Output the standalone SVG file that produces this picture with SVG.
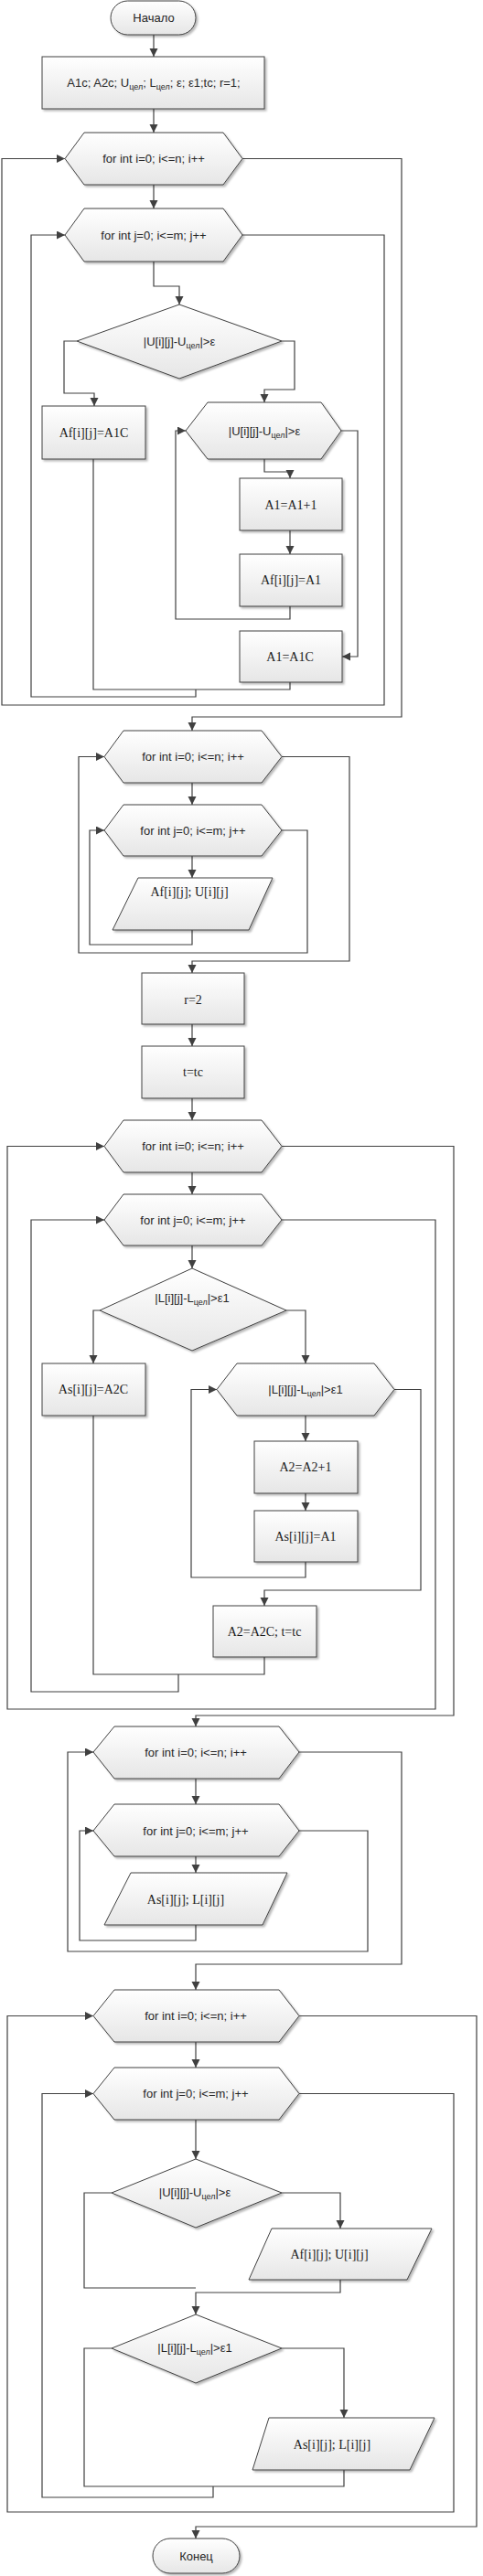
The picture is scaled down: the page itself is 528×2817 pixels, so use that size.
<svg xmlns="http://www.w3.org/2000/svg" width="528" height="2817" viewBox="0 0 528 2817">
<defs>
<linearGradient id="g" x1="0" y1="0" x2="0" y2="1">
<stop offset="0" stop-color="#ffffff"/>
<stop offset="1" stop-color="#e6e6e6"/>
</linearGradient>
<filter id="sh" x="-10%" y="-10%" width="125%" height="130%">
<feDropShadow dx="2" dy="2" stdDeviation="1.2" flood-color="#000" flood-opacity="0.28"/>
</filter>
<marker id="ar" markerUnits="userSpaceOnUse" markerWidth="10" markerHeight="10" refX="9" refY="4.5" orient="auto">
<path d="M0,0 L9,4.5 L0,9 z" fill="#404040"/>
</marker>
</defs>
<style>
.s{fill:url(#g);stroke:#404040;stroke-width:1;filter:url(#sh)}
.ln{fill:none;stroke:#404040;stroke-width:1.2}
.a{marker-end:url(#ar)}
.t{font-family:"Liberation Sans",Arial,sans-serif;font-size:13px;fill:#262626;text-anchor:middle}
.r{font-family:"Liberation Serif","Times New Roman",serif;font-size:14px;fill:#1a1a1a;text-anchor:middle}
.sub{font-size:9px}
</style>
<rect width="528" height="2817" fill="#ffffff"/>

<g id="connectors">
<path class="ln a" d="M168,38 V62"/>
<path class="ln a" d="M168,119 V145"/>
<path class="ln a" d="M168,202 V228"/>
<path class="ln a" d="M168,286 V313 H196 V333"/>
<path class="ln a" d="M84,373 H70 V430 H103 V444"/>
<path class="ln a" d="M308,373 H322 V426 H289 V440"/>
<path class="ln a" d="M289,502 V516 H317 V523"/>
<path class="ln a" d="M317,580 V606"/>
<path class="ln a" d="M317,663 V677 H192 V471 H203"/>
<path class="ln a" d="M373,471 H391 V718 H374"/>
<path class="ln" d="M102,502 V754 H317 V746"/>
<path class="ln a" d="M214,754 V762 H34 V257 H71"/>
<path class="ln a" d="M265,257 H420 V771 H2 V173.5 H71"/>
<path class="ln a" d="M265,173.5 H439 V784 H210 V799"/>

<path class="ln a" d="M210,856 V880"/>
<path class="ln a" d="M210,936 V960"/>
<path class="ln a" d="M210,1017 V1033 H98 V908 H114"/>
<path class="ln a" d="M308,908 H336 V1042 H86 V827.5 H114"/>
<path class="ln a" d="M308,827.5 H382 V1051 H210 V1064"/>
<path class="ln a" d="M210,1120 V1144"/>
<path class="ln a" d="M210,1201 V1225"/>

<path class="ln a" d="M210,1282 V1306"/>
<path class="ln a" d="M210,1362 V1387"/>
<path class="ln a" d="M109,1433 H102 V1491"/>
<path class="ln a" d="M313,1433 H334 V1491"/>
<path class="ln a" d="M334,1548 V1576"/>
<path class="ln a" d="M334,1633 V1652"/>
<path class="ln a" d="M334,1708 V1725 H209 V1519.5 H237"/>
<path class="ln a" d="M431,1519.5 H460 V1739 H289 V1756"/>
<path class="ln" d="M102,1548 V1831 H289 V1812"/>
<path class="ln a" d="M195,1831 V1850 H34 V1334 H114"/>
<path class="ln a" d="M308,1334 H476 V1869 H8 V1253.5 H114"/>
<path class="ln a" d="M308,1253.5 H496 V1876 H214 V1888"/>

<path class="ln a" d="M214,1945 V1973"/>
<path class="ln a" d="M214,2030 V2048"/>
<path class="ln a" d="M214,2105 V2122 H87 V2002 H102"/>
<path class="ln a" d="M327,2002 H402 V2134 H74 V1916 H102"/>
<path class="ln a" d="M327,1916 H439 V2148 H214 V2176"/>

<path class="ln a" d="M214,2233 V2261"/>
<path class="ln a" d="M214,2318 V2361"/>
<path class="ln a" d="M308,2398 H372 V2437"/>
<path class="ln" d="M122,2398 H92 V2502 H214"/>
<path class="ln a" d="M372,2493 V2507 H214 V2531"/>
<path class="ln a" d="M308,2568 H376 V2644"/>
<path class="ln" d="M122,2568 H92 V2719 H376 V2701"/>
<path class="ln a" d="M233,2719 V2731 H46 V2289.5 H102"/>
<path class="ln a" d="M327,2289.5 H496 V2747 H8 V2204.5 H102"/>
<path class="ln a" d="M327,2204.5 H521 V2763 H214 V2776"/>
</g>

<g id="start"><rect class="s" x="121" y="1" width="93" height="37" rx="18.5"/><text class="t" x="168" y="24">Начало</text></g>
<g id="init"><rect class="s" x="46" y="62" width="243" height="57"/><text class="t" x="168" y="95">A1c; A2c; U<tspan class="sub" dy="3">цел</tspan><tspan dy="-3">; L</tspan><tspan class="sub" dy="3">цел</tspan><tspan dy="-3">; ε; ε1;tc; r=1;</tspan></text></g>
<g id="loop-i-1"><polygon class="s" points="92,145 244,145 265,173.5 244,202 92,202 71,173.5"/><text class="t" x="168" y="178">for int i=0; i&lt;=n; i++</text></g>
<g id="loop-j-1"><polygon class="s" points="92,228 244,228 265,257 244,286 92,286 71,257"/><text class="t" x="168" y="261.5">for int j=0; i&lt;=m; j++</text></g>
<g id="cond-u-1"><polygon class="s" points="196,333 308,373 196,414 84,373"/><text class="t" x="196" y="377.5">|U[i][j]-U<tspan class="sub" dy="3">цел</tspan><tspan dy="-3">|&gt;ε</tspan></text></g>
<g id="af-a1c"><rect class="s" x="46" y="444" width="113" height="58"/><text class="r" x="102.5" y="478">Af[i][j]=A1C</text></g>
<g id="loop-u"><polygon class="s" points="227,440 351,440 373,471 351,502 227,502 203,471"/><text class="t" x="289" y="475.5">|U[i][j]-U<tspan class="sub" dy="3">цел</tspan><tspan dy="-3">|&gt;ε</tspan></text></g>
<g id="a1-inc"><rect class="s" x="262" y="523" width="112" height="57"/><text class="r" x="318" y="556.5">A1=A1+1</text></g>
<g id="af-a1"><rect class="s" x="262" y="606" width="112" height="57"/><text class="r" x="318" y="639">Af[i][j]=A1</text></g>
<g id="a1-reset"><rect class="s" x="262" y="690" width="112" height="56"/><text class="r" x="317" y="723">A1=A1C</text></g>

<g id="loop-i-2"><polygon class="s" points="135,799 286,799 308,827.5 286,856 135,856 114,827.5"/><text class="t" x="211" y="832">for int i=0; i&lt;=n; i++</text></g>
<g id="loop-j-2"><polygon class="s" points="135,880 286,880 308,908 286,936 135,936 114,908"/><text class="t" x="211" y="912.5">for int j=0; i&lt;=m; j++</text></g>
<g id="out-af-1"><polygon class="s" points="151,960 298,960 272,1017 123,1017"/><text class="r" x="207" y="980">Af[i][j]; U[i][j]</text></g>
<g id="r2"><rect class="s" x="155" y="1064" width="112" height="56"/><text class="r" x="211" y="1097.5">r=2</text></g>
<g id="ttc"><rect class="s" x="155" y="1144" width="112" height="57"/><text class="r" x="211" y="1177">t=tc</text></g>

<g id="loop-i-3"><polygon class="s" points="135,1225 286,1225 308,1253.5 286,1282 135,1282 114,1253.5"/><text class="t" x="211" y="1258">for int i=0; i&lt;=n; i++</text></g>
<g id="loop-j-3"><polygon class="s" points="135,1306 286,1306 308,1334 286,1362 135,1362 114,1334"/><text class="t" x="211" y="1338.5">for int j=0; i&lt;=m; j++</text></g>
<g id="cond-l-1"><polygon class="s" points="210,1387 313,1433 210,1477 109,1433"/><text class="t" x="210" y="1423.5">|L[i][j]-L<tspan class="sub" dy="3">цел</tspan><tspan dy="-3">|&gt;ε1</tspan></text></g>
<g id="as-a2c"><rect class="s" x="46" y="1491" width="113" height="57"/><text class="r" x="102" y="1524">As[i][j]=A2C</text></g>
<g id="loop-l"><polygon class="s" points="259,1491 409,1491 431,1519.5 409,1548 259,1548 237,1519.5"/><text class="t" x="334" y="1524">|L[i][j]-L<tspan class="sub" dy="3">цел</tspan><tspan dy="-3">|&gt;ε1</tspan></text></g>
<g id="a2-inc"><rect class="s" x="278" y="1576" width="113" height="57"/><text class="r" x="334" y="1608.5">A2=A2+1</text></g>
<g id="as-a1"><rect class="s" x="278" y="1652" width="113" height="56"/><text class="r" x="334" y="1684.5">As[i][j]=A1</text></g>
<g id="a2-reset"><rect class="s" x="233" y="1756" width="113" height="56"/><text class="r" x="289" y="1789">A2=A2C; t=tc</text></g>

<g id="loop-i-4"><polygon class="s" points="125,1888 305,1888 327,1916 305,1945 125,1945 102,1916"/><text class="t" x="214" y="1920.5">for int i=0; i&lt;=n; i++</text></g>
<g id="loop-j-4"><polygon class="s" points="125,1973 305,1973 327,2002 305,2030 125,2030 102,2002"/><text class="t" x="214" y="2006.5">for int j=0; i&lt;=m; j++</text></g>
<g id="out-as-1"><polygon class="s" points="143,2048 314,2048 287,2105 114,2105"/><text class="r" x="203" y="2082">As[i][j]; L[i][j]</text></g>

<g id="loop-i-5"><polygon class="s" points="125,2176 305,2176 327,2204.5 305,2233 125,2233 102,2204.5"/><text class="t" x="214" y="2209">for int i=0; i&lt;=n; i++</text></g>
<g id="loop-j-5"><polygon class="s" points="125,2261 305,2261 327,2289.5 305,2318 125,2318 102,2289.5"/><text class="t" x="214" y="2294">for int j=0; i&lt;=m; j++</text></g>
<g id="cond-u-2"><polygon class="s" points="214,2361 308,2398 214,2436 122,2398"/><text class="t" x="213" y="2402">|U[i][j]-U<tspan class="sub" dy="3">цел</tspan><tspan dy="-3">|&gt;ε</tspan></text></g>
<g id="out-af-2"><polygon class="s" points="297,2437 472,2437 445,2493 272,2493"/><text class="r" x="360" y="2470">Af[i][j]; U[i][j]</text></g>
<g id="cond-l-2"><polygon class="s" points="214,2531 308,2568 214,2606 122,2568"/><text class="t" x="213" y="2572">|L[i][j]-L<tspan class="sub" dy="3">цел</tspan><tspan dy="-3">|&gt;ε1</tspan></text></g>
<g id="out-as-2"><polygon class="s" points="294,2644 475,2644 448,2701 276,2701"/><text class="r" x="363" y="2677.5">As[i][j]; L[i][j]</text></g>
<g id="end"><rect class="s" x="167" y="2776" width="95" height="38" rx="19"/><text class="t" x="214.5" y="2799.5">Конец</text></g>
</svg>
